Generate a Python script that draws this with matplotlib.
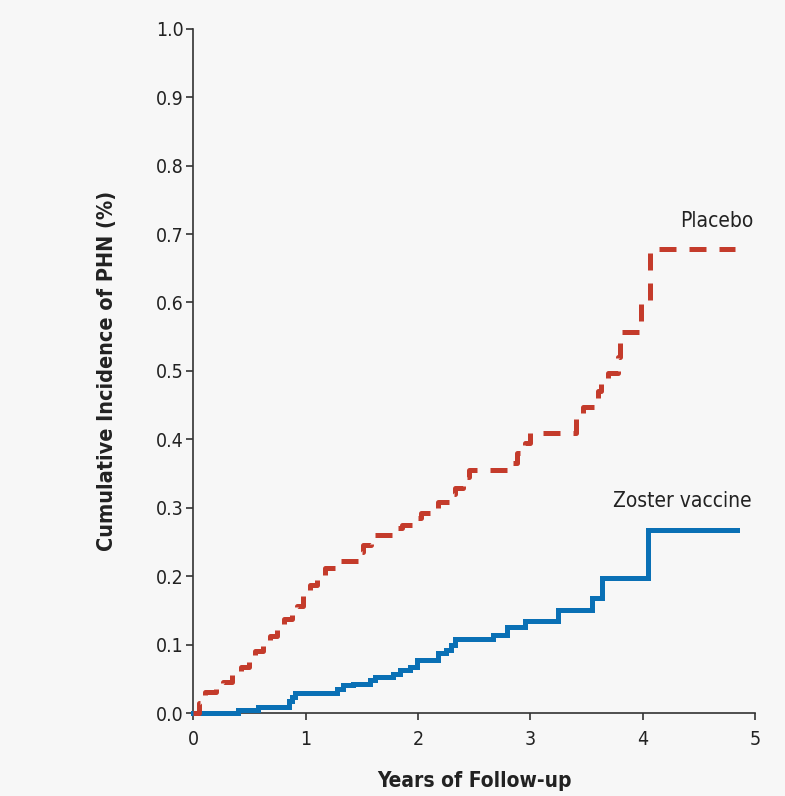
import matplotlib
matplotlib.use("Agg")
import matplotlib.pyplot as plt

plt.rcParams['font.family'] = ['DejaVu Sans']
plt.rcParams['font.stretch'] = 'condensed'

# step points: (year of jump, cumulative incidence after jump)
placebo_t = [0.0, 0.05, 0.11, 0.20, 0.27, 0.35, 0.43, 0.50, 0.55, 0.62, 0.68,
             0.75, 0.81, 0.88, 0.92, 0.98, 1.04, 1.10, 1.17, 1.30, 1.48, 1.51,
             1.58, 1.78, 1.86, 1.95, 2.03, 2.12, 2.18, 2.28, 2.33, 2.40, 2.45,
             2.83, 2.88, 2.95, 3.00, 3.41, 3.47, 3.60, 3.63, 3.69, 3.78, 3.80,
             3.98, 4.06, 4.82]
placebo_y = [0.0, 0.015, 0.031, 0.040, 0.046, 0.057, 0.068, 0.080, 0.091, 0.100,
             0.113, 0.125, 0.137, 0.148, 0.156, 0.172, 0.187, 0.200, 0.212, 0.222,
             0.235, 0.246, 0.261, 0.270, 0.275, 0.285, 0.292, 0.300, 0.308, 0.320,
             0.329, 0.345, 0.355, 0.365, 0.380, 0.395, 0.410, 0.430, 0.448, 0.470,
             0.490, 0.497, 0.520, 0.557, 0.600, 0.678, 0.678]

zoster_t = [0.0, 0.40, 0.58, 0.85, 0.88, 0.91, 1.28, 1.33, 1.42, 1.57, 1.62,
            1.78, 1.84, 1.93, 1.99, 2.18, 2.25, 2.29, 2.33, 2.67, 2.79, 2.95,
            3.25, 3.55, 3.64, 4.05, 4.84]
zoster_y = [0.0, 0.004, 0.009, 0.018, 0.024, 0.029, 0.036, 0.041, 0.043, 0.049,
            0.053, 0.058, 0.063, 0.068, 0.078, 0.088, 0.092, 0.099, 0.109, 0.114,
            0.126, 0.134, 0.151, 0.168, 0.197, 0.268, 0.268]

xticks = [0, 1, 2, 3, 4, 5]
yticks = [0.0, 0.1, 0.2, 0.3, 0.4, 0.5, 0.6, 0.7, 0.8, 0.9, 1.0]

bg = "#f7f7f7"
ink = "#333333"
red = "#c43b2b"
blue = "#0a70b5"

fig = plt.figure(figsize=(7.85, 7.96), dpi=100, facecolor=bg)
ax = fig.add_axes([0.246, 0.104, 0.716, 0.860])
ax.set_facecolor(bg)

ax.step(zoster_t, zoster_y, where="post", color=blue, lw=3.6,
        solid_joinstyle="miter", clip_on=False, zorder=3)
line, = ax.step(placebo_t, placebo_y, where="post", color=red, lw=3.6,
                clip_on=False, zorder=4)
line.set_dashes([3.4, 2.6])
line.set_dash_capstyle("butt")

ax.text(4.66, 0.719, "Placebo", fontsize=15, color="#222222", ha="center", va="center")
ax.text(4.35, 0.310, "Zoster vaccine", fontsize=15, color="#222222", ha="center", va="center")

ax.set_xlim(0, 5)
ax.set_ylim(0, 1.0)
ax.set_xticks(xticks)
ax.set_yticks(yticks)
ax.set_yticklabels(["{:.1f}".format(v) for v in yticks])

for s in ["top", "right"]:
    ax.spines[s].set_visible(False)
for s in ["left", "bottom"]:
    ax.spines[s].set_color(ink)
    ax.spines[s].set_linewidth(1.2)

ax.tick_params(direction="out", length=5, width=1.2, color=ink,
               labelsize=14, labelcolor="#222222", pad=2)
ax.tick_params(axis="x", pad=7)

ax.set_xlabel("Years of Follow-up", fontsize=15, fontweight="bold", color="#222222", labelpad=16)
ax.set_ylabel("Cumulative Incidence of PHN (%)", fontsize=15.5, fontweight="bold", color="#222222", labelpad=28)

fig.savefig("out.png", dpi=100, facecolor=bg)
